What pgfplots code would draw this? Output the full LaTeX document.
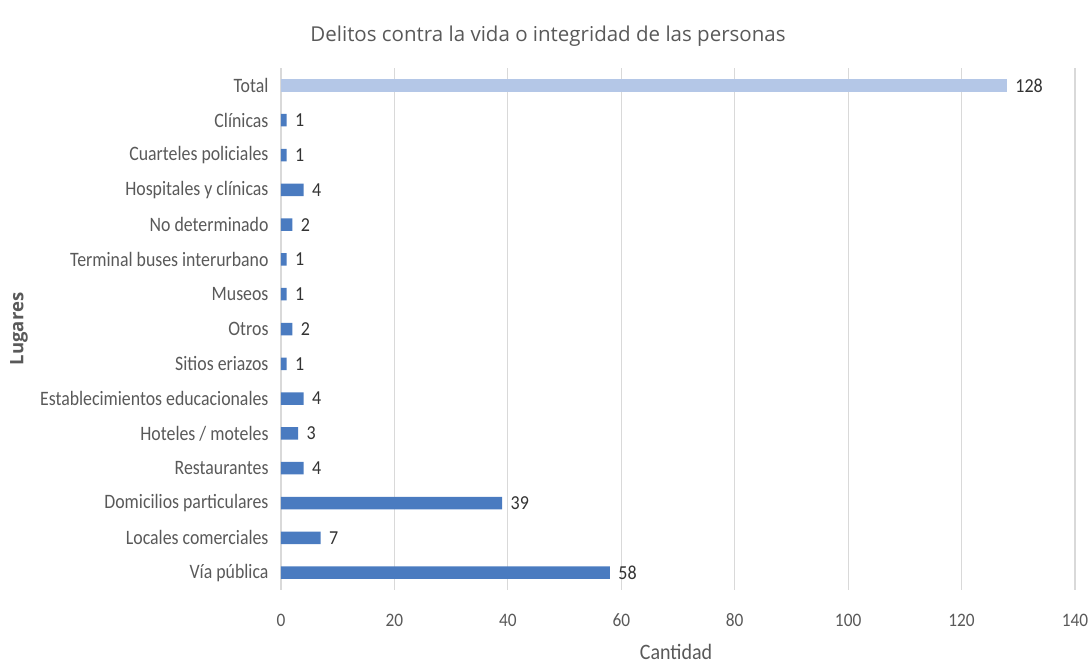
\documentclass[border=0pt]{standalone}
\usepackage{fontspec}
\setmainfont{Carlito}
\newfontfamily\titlefont{Open Sans}
\usepackage{pgfplots}
\pgfplotsset{compat=1.18}
\definecolor{barblue}{HTML}{4A7BC0}
\definecolor{barlight}{HTML}{B4C7E7}
\definecolor{txtgray}{HTML}{595959}
\definecolor{gridgray}{HTML}{D9D9D9}
\begin{document}
\begin{tikzpicture}[x=1pt,y=1pt]
\useasboundingbox (-281,-74) rectangle (807,590);
\begin{axis}[
  at={(0,0)}, anchor=south west,
  scale only axis, width=794pt, height=522pt,
  xbar, bar width=12.5pt, bar shift=0pt,
  xmin=0, xmax=140, xtick={0,20,...,140},
  ymin=-0.5, ymax=14.5, y dir=reverse,
  ytick={0,...,14},
  yticklabels={Total,Clínicas,Cuarteles policiales,Hospitales y clínicas,No determinado,Terminal buses interurbano,Museos,Otros,Sitios eriazos,Establecimientos educacionales,Hoteles / moteles,Restaurantes,Domicilios particulares,Locales comerciales,Vía pública},
  major tick length=0pt,
  axis line style={draw=none},
  xmajorgrids, grid style={gridgray, line width=1.2pt},
  /pgf/number format/assume math mode=true,
  ticklabel style={text=txtgray},
  xticklabel style={font=\fontsize{17.3}{20}\selectfont, yscale=1.1, yshift=-18pt},
  yticklabel style={font=\fontsize{17.8}{20}\selectfont, yscale=1.15, xshift=-9pt},
  nodes near coords,
  nodes near coords style={font=\fontsize{18}{20}\selectfont, yscale=1.1, text=black!80, anchor=west, xshift=5pt},
  point meta=x,
  clip=false,
]
\addplot[draw=none, fill=barlight] coordinates {(128,0)};
\addplot[draw=none, fill=barblue] coordinates {
(1,1) (1,2) (4,3) (2,4) (1,5) (1,6) (2,7) (1,8) (4,9) (3,10) (4,11) (39,12) (7,13) (58,14)};
\end{axis}
\node[font=\titlefont\fontsize{20.5}{24}\selectfont, text=txtgray] at (267,554) {Delitos contra la vida o integridad de las personas};
\node[font=\fontsize{20}{24}\selectfont, yscale=1.1, text=txtgray] at (395,-62) {Cantidad};
\node[font=\titlefont\bfseries\fontsize{18.5}{22}\selectfont, text=txtgray, rotate=90] at (-262,261) {Lugares};
\end{tikzpicture}
\end{document}
